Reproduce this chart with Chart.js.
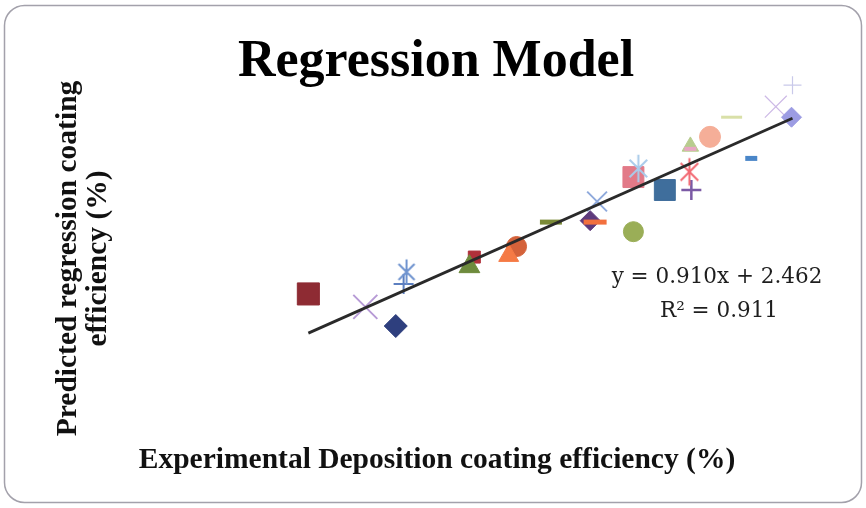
<!DOCTYPE html>
<html>
<head>
<meta charset="utf-8">
<script src="https://cdn.jsdelivr.net/npm/chart.js@4/dist/chart.umd.min.js"></script>
<style>
html, body { margin: 0; padding: 0; background: #fff; }
canvas { display: block; }
</style>
</head>
<body>
<canvas id="chart" width="866" height="508"></canvas>
<script>
// Text
const chartTitle = 'Regression Model';
const xTitle = 'Experimental Deposition coating efficiency (%)';
const yTitle = ['Predicted regression coating', 'efficiency (%)'];

// Experimental vs. predicted deposition coating efficiency (%), one entry per sample
const expX  = [39.4, 45.2, 48.3, 49.1, 49.4, 56.3, 55.8, 60.6, 59.8, 64.1, 68.1, 68.6, 68.8, 72.5,
               72.5, 73.0, 75.7, 78.4, 78.2, 78.3, 78.3, 80.3, 82.5, 84.5, 87.0, 88.7, 88.6];
const predY = [46.5, 43.8, 39.8, 48.6, 51.1, 54.2, 52.2, 56.4, 54.5, 61.5, 61.8, 61.5, 65.8, 59.5,
               70.9, 72.7, 68.2, 68.2, 72.0, 77.3, 76.8, 79.3, 83.4, 74.8, 85.6, 90.1, 83.4];

// Linear fit reported on the chart
const slope = 0.910;
const intercept = 2.462;
const rSquared = 0.911;

// Marker look for each sample (spreadsheet-style cycling markers)
const markerShape = ['rect', 'crossRot', 'rectRot', 'cross', 'star', 'rect', 'triangle', 'circle', 'triangle',
                     'line', 'rectRot', 'line', 'crossRot', 'circle', 'rect', 'star', 'rect', 'cross',
                     'star', 'triangle', 'line', 'circle', 'line', 'line', 'crossRot', 'cross', 'rectRot'];
const markerColor = ['#8E2B33', '#B79BD6', '#2E3F7E', '#5C7FC0', '#6F93CF', '#B0303A', '#6E8B3D', '#D4623A', '#F57A45',
                     '#7B8B38', '#5E3A7C', '#F2703E', '#8FAADC', '#9AAE57', '#E27A88', '#A9CBEA', '#3F6E9C', '#7B5AA5',
                     '#F26A73', '#B8CC8E', '#E9A6C4', '#F5AE98', '#D9E0A8', '#4A86C8', '#CDB9E6', '#C9C9EA', '#9C9CE3'];
const markerRadius = [15.6, 17, 11.5, 10, 10, 8.5, 12, 10, 11.5,
                      11, 10, 11.5, 14, 10, 14.8, 11, 14.8, 10,
                      11, 9.5, 6, 10.5, 10.5, 6, 15.5, 9, 10];
const markerStroke = [1, 2, 1, 2, 2, 1, 1, 1, 1,
                      5, 1, 5, 2, 1, 1, 2, 1, 2.5,
                      2, 1, 4, 1, 3, 5, 1.2, 1.2, 1];

// Asterisk-like marker: diagonal cross plus a vertical bar
function makeStar(color, r, lw) {
  const size = Math.ceil(r * 2.6) + 4;
  const c = document.createElement('canvas');
  c.width = size; c.height = size;
  const g = c.getContext('2d');
  const m = size / 2, d = r * 0.8;
  g.strokeStyle = color;
  g.lineWidth = lw;
  g.beginPath();
  g.moveTo(m - d, m - d); g.lineTo(m + d, m + d);
  g.moveTo(m + d, m - d); g.lineTo(m - d, m + d);
  g.moveTo(m, m - r * 1.25); g.lineTo(m, m + r * 1.25);
  g.stroke();
  return c;
}

const pointStyles = markerShape.map((s, i) =>
  s === 'star' ? makeStar(markerColor[i], markerRadius[i], markerStroke[i]) : s);

const samples = expX.map((x, i) => ({ x, y: predY[i] }));
const trendX = [Math.min(...expX), Math.max(...expX)];
const trendData = trendX.map(x => ({ x, y: slope * x + intercept }));

const fmt = v => v.toFixed(3);
const eqLine1 = 'y = ' + fmt(slope) + 'x + ' + fmt(intercept);
const eqLine2 = 'R\u00B2 = ' + fmt(rSquared);

const titleFont = { family: 'Liberation Serif', size: 29.5, weight: 'bold', lineHeight: 1.02 };

// Rounded frame behind the chart
const framePlugin = {
  id: 'frame',
  beforeDraw(chart) {
    const ctx = chart.ctx;
    ctx.save();
    ctx.fillStyle = '#ffffff';
    ctx.fillRect(0, 0, chart.width, chart.height);
    ctx.beginPath();
    ctx.roundRect(4.5, 5.5, chart.width - 9, chart.height - 11, 20);
    ctx.strokeStyle = '#a3a1ab';
    ctx.lineWidth = 1.5;
    ctx.stroke();
    ctx.restore();
  }
};

// Regression equation label
const equationPlugin = {
  id: 'equation',
  afterDatasetsDraw(chart) {
    const ctx = chart.ctx;
    ctx.save();
    ctx.fillStyle = '#1e1e1e';
    ctx.font = '21.5px "DejaVu Serif"';
    ctx.textAlign = 'center';
    ctx.textBaseline = 'alphabetic';
    ctx.fillText(eqLine1, 717, 283);
    ctx.fillText(eqLine2, 719, 317);
    ctx.restore();
  }
};

new Chart(document.getElementById('chart'), {
  type: 'scatter',
  data: {
    datasets: [
      {
        type: 'line',
        label: 'Linear fit',
        data: trendData,
        borderColor: '#2a2a2a',
        borderWidth: 2.8,
        pointRadius: 0,
        showLine: true,
        clip: false,
        order: 0
      },
      {
        label: 'Samples',
        data: samples,
        pointStyle: pointStyles,
        pointRadius: markerRadius,
        backgroundColor: markerColor,
        borderColor: markerColor,
        borderWidth: markerStroke,
        clip: false,
        order: 1
      }
    ]
  },
  options: {
    responsive: false,
    animation: false,
    devicePixelRatio: 1,
    events: [],
    layout: { padding: { left: 23, right: 17, top: 0, bottom: 10 } },
    plugins: {
      legend: { display: false },
      tooltip: { enabled: false },
      title: {
        display: true,
        text: chartTitle,
        color: '#000',
        font: { family: 'Liberation Serif', size: 52, weight: 'bold', lineHeight: 0.8 },
        padding: { top: 41.5, bottom: 4.9 }
      }
    },
    scales: {
      x: {
        type: 'linear',
        min: 13.5,
        max: 91.5,
        grid: { display: false, drawTicks: false },
        border: { display: false },
        ticks: { display: false },
        title: { display: true, text: xTitle, color: '#111', font: titleFont, padding: { top: 20, bottom: 23 } },
        afterFit(scale) { scale.height = 69; }
      },
      y: {
        type: 'linear',
        min: 18.3,
        max: 89.5,
        grid: { display: false, drawTicks: false },
        border: { display: false },
        ticks: { display: false },
        title: { display: true, text: yTitle, color: '#111', font: titleFont, padding: { top: 30, bottom: 0 } },
        afterFit(scale) { scale.width = 31; }
      },
      yRight: {
        type: 'linear',
        position: 'right',
        display: true,
        grid: { display: false, drawTicks: false },
        border: { display: false },
        ticks: { display: false },
        title: { display: false },
        afterFit(scale) { scale.width = 29; }
      }
    }
  },
  plugins: [framePlugin, equationPlugin]
});
</script>
</body>
</html>
